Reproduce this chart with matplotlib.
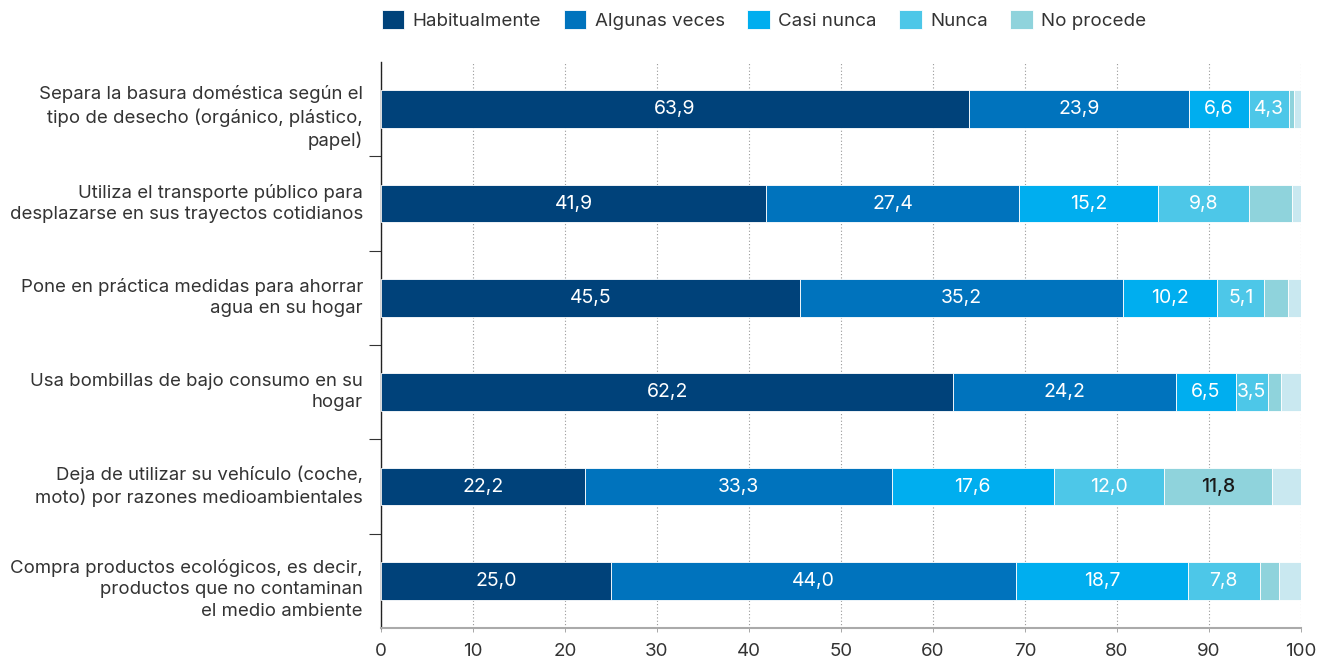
import matplotlib.pyplot as plt
import numpy as np

plt.rcParams['font.family'] = ['Inter', 'DejaVu Sans']

categories = [
    'Separa la basura doméstica según el\ntipo de desecho (orgánico, plástico,\npapel)',
    'Utiliza el transporte público para\ndesplazarse en sus trayectos cotidianos',
    'Pone en práctica medidas para ahorrar\nagua en su hogar',
    'Usa bombillas de bajo consumo en su\nhogar',
    'Deja de utilizar su vehículo (coche,\nmoto) por razones medioambientales',
    'Compra productos ecológicos, es decir,\nproductos que no contaminan\nel medio ambiente',
]

habitualmente = [63.9, 41.9, 45.5, 62.2, 22.2, 25.0]
algunas_veces = [23.9, 27.4, 35.2, 24.2, 33.3, 44.0]
casi_nunca = [6.6, 15.2, 10.2, 6.5, 17.6, 18.7]
nunca = [4.3, 9.8, 5.1, 3.5, 12.0, 7.8]
no_procede = [0.5, 4.7, 2.6, 1.4, 11.8, 2.1]
ns_nc = [0.8, 1.0, 1.4, 2.2, 3.1, 2.4]

series = [
    ('Habitualmente', habitualmente, '#00427A', 'white', True),
    ('Algunas veces', algunas_veces, '#0073BD', 'white', True),
    ('Casi nunca', casi_nunca, '#00AEEF', 'white', True),
    ('Nunca', nunca, '#4DC7E8', 'white', True),
    ('No procede', no_procede, '#8FD3DC', '#1a1a1a', False),
    (None, ns_nc, '#C9E8F0', 'white', False),
]

fig = plt.figure(figsize=(13.3, 6.58), dpi=100)
ax = fig.add_axes([381 / 1330, 30 / 658, 920 / 1330, 566 / 658])

y = np.arange(len(categories))
left = np.zeros(len(categories))
handles = []
for name, vals, color, tcolor, label_all in series:
    vals = np.array(vals)
    bars = ax.barh(y, vals, left=left, height=0.4, color=color,
                   edgecolor='white', linewidth=0.6, zorder=3)
    if name:
        handles.append((bars, name))
    for i, v in enumerate(vals):
        if name and (label_all or v >= 10):
            ax.text(left[i] + v / 2, y[i], f'{v:.1f}'.replace('.', ','),
                    ha='center', va='center', color=tcolor, fontsize=14,
                    fontweight='medium' if tcolor != 'white' else 'normal',
                    zorder=4)
    left += vals

ax.set_xlim(0, 100)
ax.set_ylim(len(categories) - 0.5, -0.5)
ax.set_xticks(np.arange(0, 101, 10))
ax.xaxis.grid(True, linestyle=(0, (1, 2)), color='#999999', linewidth=0.8, zorder=0)
ax.set_axisbelow(True)

# category labels, three-line ones sit a little below the bar centre
ax.set_yticks(y)
ax.set_yticklabels([])
for yi, cat in zip(y, categories):
    dy = -8.5 if cat.count('\n') == 2 else 0
    ax.annotate(cat, xy=(0, yi), xycoords=ax.get_yaxis_transform(),
                xytext=(-18, dy), textcoords='offset pixels',
                ha='right', va='center', fontsize=13.4, color='#333333',
                linespacing=1.33, annotation_clip=False)
ax.set_yticks(np.arange(0.5, len(categories) - 1, 1), minor=True)
ax.tick_params(axis='y', which='major', length=0)
ax.tick_params(axis='y', which='minor', length=9, width=0.8, color='#333333')
ax.tick_params(axis='x', length=3, width=0.6, color='#999999', labelsize=13.5,
               labelcolor='#333333', pad=8)

for s in ['top', 'right']:
    ax.spines[s].set_visible(False)
ax.spines['left'].set_color('#222222')
ax.spines['left'].set_linewidth(1.0)
ax.spines['bottom'].set_color('#aaaaaa')
ax.spines['bottom'].set_linewidth(1.5)

fig.legend([h for h, _ in handles], [n for _, n in handles],
           loc='center left', bbox_to_anchor=(365 / 1330, 1 - 20 / 658),
           ncol=5, frameon=False, fontsize=13.5, handlelength=1.2,
           handleheight=1.2, handletextpad=0.45, columnspacing=1.2,
           labelcolor='#333333')

fig.savefig('out.png', dpi=100)
